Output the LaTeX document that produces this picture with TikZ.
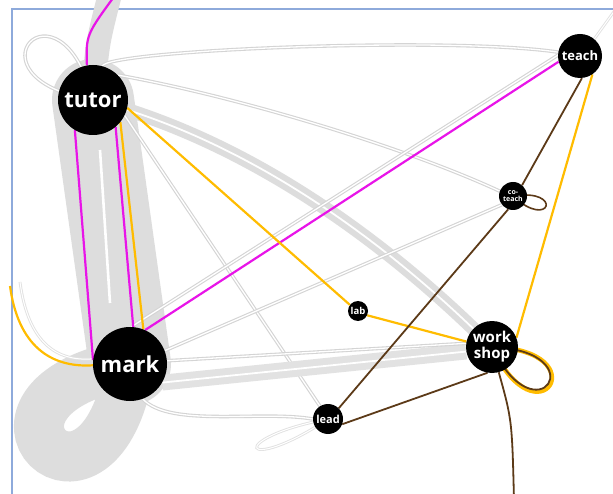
\documentclass[tikz,border=0pt]{standalone}
\usepackage{fontspec}
\setmainfont{Open Sans}
\definecolor{gband}{RGB}{221,221,221}
\definecolor{gline}{RGB}{212,212,212}
\definecolor{pinkE}{RGB}{232,20,232}
\definecolor{goldE}{RGB}{255,188,0}
\definecolor{brownE}{RGB}{92,58,24}
\definecolor{frameE}{RGB}{142,170,219}
\pgfdeclarelayer{edges}
\pgfsetlayers{edges,main}
\tikzset{
  vert/.style={circle, fill=black, text=white, inner sep=0pt, align=center},
  gthin/.style={draw=gline, line width=1.1pt, double=white, double distance=1.3pt},
  gfaint/.style={draw=gline!70, line width=0.9pt, double=white, double distance=1pt},
  gthick/.style={draw=gband, line width=6pt, double=white, double distance=1.8pt},
  pinkedge/.style={draw=pinkE, line width=2.2pt},
  goldedge/.style={draw=goldE, line width=2.2pt},
  brownedge/.style={draw=brownE, line width=1.8pt},
}
\newcommand\vfs[2]{\bfseries\fontsize{#1}{#2}\selectfont}
\begin{document}
\begin{tikzpicture}[x=1pt,y=-1pt]
\useasboundingbox (0,0) rectangle (613,494);

% vertices
\node[vert, minimum size=70pt, font=\vfs{22}{24}] (tutor) at (93,100) {tutor};
\node[vert, minimum size=74pt, font=\vfs{22}{24}] (mark) at (130,364) {mark};
\node[vert, minimum size=44pt, font=\vfs{13}{14}] (teach) at (580,56) {teach};
\node[vert, minimum size=28pt, font=\vfs{7}{7}] (coteach) at (513,196) {co-\\teach};
\node[vert, minimum size=20pt, font=\vfs{9.5}{10}] (lab) at (358,311) {lab};
\node[vert, minimum size=52pt, font=\vfs{15}{16}] (workshop) at (492,347) {work\\shop};
\node[vert, minimum size=30pt, font=\vfs{11}{12}] (lead) at (328,419) {lead};

% loose ends leaving the frame
\coordinate (tup) at (116,-6);
\coordinate (tupg) at (110,-6);
\coordinate (tout) at (618,6);
\coordinate (mleft) at (10,286);
\coordinate (mleftg) at (20,282);
\coordinate (wdown) at (514,500);

\begin{pgfonlayer}{edges}
  \fill[white] (0,0) rectangle (613,494);
  % frame
  \draw[frameE, line width=2pt] (620,9) -- (12,9) -- (12,500);

  % grey edges
  \draw[gband, line width=82pt, line cap=round] (tutor.center) -- (mark.center);
  \draw[white, line width=2.6pt] (100,150) -- (110,303);
  \draw[gband, line width=50pt] (mark.center) .. controls (100,554) and (-59,398) .. (mark.center);
  \draw[gband, line width=24pt] (tutor.center) .. controls (97,45) .. (tupg);
  \draw[gthin] (tutor.center) .. controls (60,-32) and (-42,78) .. (tutor.center);
  \draw[gthin] (tutor.75) .. controls (110,50) and (450,36) .. (teach.170);
  \draw[gthin] (tutor.45) .. controls (230,95) and (400,145) .. (coteach.160);
  \draw[gthick] (tutor.center) .. controls (226,134) and (365,220) .. (workshop.center);
  \draw[gthin] (tutor.-26) -- (lead.122);
  \draw[gthin] (mark.88) -- (teach.178);
  \draw[gthin] (mark.21) -- (coteach.218);
  \draw[gthick, draw=gband!85, line width=7pt] (mark.-30) -- (workshop.190);
  \draw[gthin] (mark.5) -- (workshop.172);
  \draw[gthin] (mark.-70) .. controls (170,428) and (260,410) .. (lead.180);
  \draw[gfaint] (lead.center) .. controls (241,477) and (225,438) .. (lead.center);
  \draw[gfaint] (teach.50) -- (tout);
  \draw[gfaint] (mark.172) .. controls (56,362) and (28,342) .. (mleftg);

  % magenta edges
  \draw[pinkedge] (tutor.100) .. controls (86,35) .. (tup);
  \draw[pinkedge] (tutor.239) -- (mark.174);
  \draw[pinkedge] (tutor.310) -- (mark.85);
  \draw[pinkedge] (mark.66) -- (teach.195);

  % gold edges
  \draw[goldedge] (tutor.321) -- (mark.69);
  \draw[goldedge] (mark.182) .. controls (50,368) and (18,345) .. (mleft);
  \draw[goldedge] (tutor.-13) -- (lab.143);
  \draw[goldedge] (lab.-25) -- (workshop.168);
  \draw[goldedge] (workshop.21) -- (teach.-56);
  \draw[goldedge, line width=4.5pt] (workshop.center) .. controls (538,446) and (600,350) .. (workshop.center);

  % brown edges
  \draw[brownedge] (workshop.center) .. controls (537,441) and (597,351) .. (workshop.center);
  \draw[brownedge] (teach.-85) -- (coteach.50);
  \draw[brownedge] (coteach.-110) -- (lead.45);
  \draw[brownedge, line width=1.6pt] (coteach.center) .. controls (550,231) and (564,188) .. (coteach.center);
  \draw[brownedge] (lead.-20) -- (workshop.-100);
  \draw[brownedge] (workshop.-75) .. controls (512,420) .. (wdown);
\end{pgfonlayer}
\end{tikzpicture}
\end{document}
